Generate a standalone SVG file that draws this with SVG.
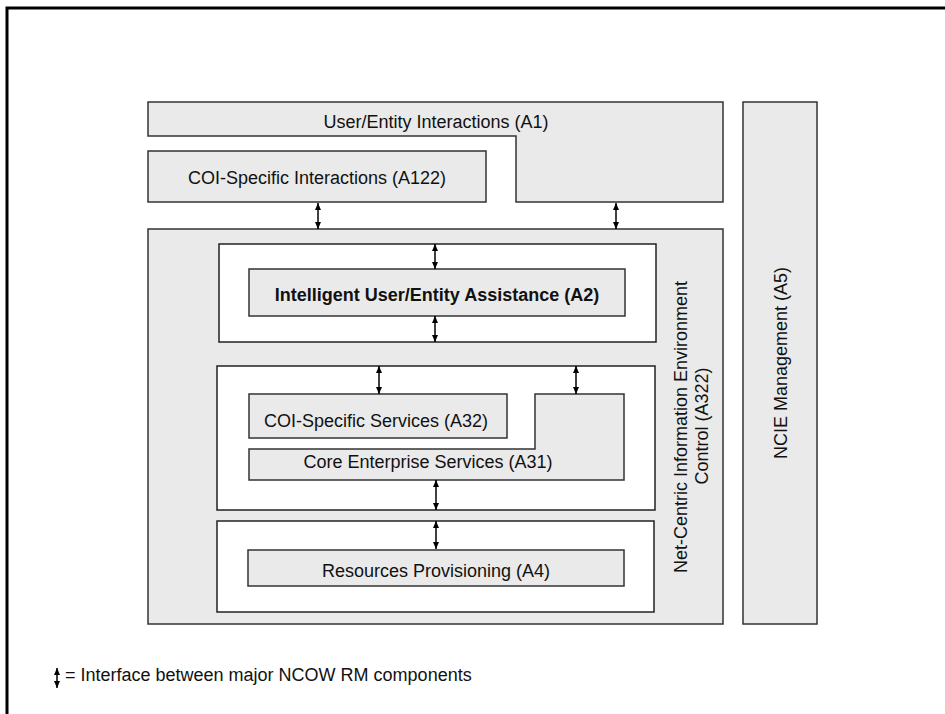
<svg xmlns="http://www.w3.org/2000/svg" width="945" height="714" viewBox="0 0 945 714">
<style>
.g{fill:#eaeaea;stroke:#333;stroke-width:1.5}
.w{fill:#fff;stroke:#222;stroke-width:1.5}
.t{font-family:"Liberation Sans",Arial,sans-serif;font-size:18px;fill:#111;text-anchor:middle}
.b{font-weight:bold}
.a{stroke:#000;stroke-width:1.5;fill:none;marker-start:url(#ah);marker-end:url(#ah)}
</style>
<defs>
<marker id="ah" viewBox="0 0 7 6" refX="7" refY="3" markerWidth="7" markerHeight="6" markerUnits="userSpaceOnUse" orient="auto-start-reverse">
<path d="M0,0 L7,3 L0,6 Z" fill="#000"/>
</marker>
</defs>
<rect width="945" height="714" fill="#fff"/>
<path d="M7,714 V8 H945" fill="none" stroke="#000" stroke-width="3"/>
<g id="A1"><path class="g" d="M148,102 H723 V202 H516 V136 H148 Z"/><text class="t" x="436" y="128">User/Entity Interactions (A1)</text></g>
<g id="A122"><rect class="g" x="148" y="151" width="338" height="51"/><text class="t" x="317" y="184">COI-Specific Interactions (A122)</text></g>
<g id="A5"><rect class="g" x="743" y="102" width="74" height="522"/><text class="t" transform="translate(787,363) rotate(-90)">NCIE Management (A5)</text></g>
<g id="A322"><rect class="g" x="148" y="229" width="575" height="395"/><text class="t" transform="translate(687,427) rotate(-90)">Net-Centric Information Environment</text><text class="t" transform="translate(708,426) rotate(-90)">Control (A322)</text></g>
<g id="box2"><rect class="w" x="219" y="244" width="437" height="98"/></g>
<g id="A2"><rect class="g" x="249" y="269" width="376" height="47"/><text class="t b" x="437" y="301">Intelligent User/Entity Assistance (A2)</text></g>
<g id="box3"><rect class="w" x="217" y="366" width="438" height="144"/></g>
<g id="A32"><rect class="g" x="249" y="394" width="258" height="44"/><text class="t" x="376" y="427">COI-Specific Services (A32)</text></g>
<g id="A31"><path class="g" d="M535,394 H624 V480 H249 V449 H535 Z"/><text class="t" x="428" y="468">Core Enterprise Services (A31)</text></g>
<g id="box4"><rect class="w" x="217" y="521" width="437" height="91"/></g>
<g id="A4"><rect class="g" x="248" y="550" width="376" height="36"/><text class="t" x="436" y="577">Resources Provisioning (A4)</text></g>
<g id="connectors">
<line class="a" x1="318" y1="203" x2="318" y2="229"/>
<line class="a" x1="616" y1="203" x2="616" y2="229"/>
<line class="a" x1="435" y1="244" x2="435" y2="269"/>
<line class="a" x1="435" y1="316" x2="435" y2="342"/>
<line class="a" x1="379" y1="366" x2="379" y2="394"/>
<line class="a" x1="576" y1="366" x2="576" y2="394"/>
<line class="a" x1="436" y1="480" x2="436" y2="510"/>
<line class="a" x1="436" y1="521" x2="436" y2="549"/>
</g>
<g id="legend">
<line class="a" x1="57" y1="668" x2="57" y2="688"/>
<text class="t" style="text-anchor:start" x="65" y="681">= Interface between major NCOW RM components</text>
</g>
</svg>
